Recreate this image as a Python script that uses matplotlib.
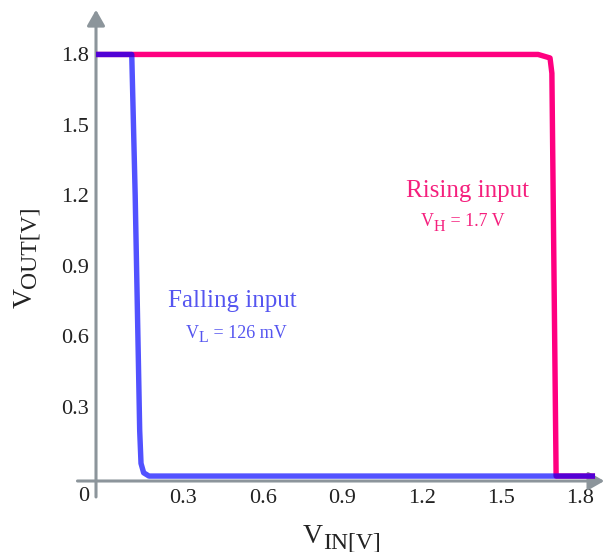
import matplotlib
matplotlib.use("Agg")
import matplotlib.pyplot as plt

# Transfer curves (V_OUT vs V_IN) for the two sweep directions
vin_rise = [-0.03, 1.64, 1.685, 1.692, 1.708, 1.855]
vout_rise = [1.8, 1.8, 1.785, 1.72, 0.006, 0.006]

vin_fall = [-0.03, 0.105, 0.118, 0.13, 0.135, 0.14, 0.15, 0.17, 1.855]
vout_fall = [1.8, 1.8, 1.2, 0.5, 0.2, 0.06, 0.02, 0.006, 0.006]

x_ticks = [0.3, 0.6, 0.9, 1.2, 1.5, 1.8]
y_ticks = [0.3, 0.6, 0.9, 1.2, 1.5, 1.8]
x_tick_labels = ["0.3", "0.6", "0.9", "1.2", "1.5", "1.8"]
y_tick_labels = ["0.3", "0.6", "0.9", "1.2", "1.5", "1.8"]

SERIF = "Liberation Serif"
PINK = "#ff0080"
BLUE = "#0000ff"
PINK_TXT = "#f51f7d"
BLUE_TXT = "#5555f0"
AXIS = "#8c959b"

W, H = 604, 552
fig = plt.figure(figsize=(W / 100, H / 100), dpi=100)
ax = fig.add_axes([0.1195, 0.0967, 0.881, 0.8898])
ax.set_xlim(-0.12, 1.89)
ax.set_ylim(-0.09, 2.0)

ax.plot(vin_rise, vout_rise, color=PINK, lw=3.9, solid_joinstyle="round",
        solid_capstyle="butt", zorder=3)
ax.plot(vin_fall, vout_fall, color=BLUE, alpha=0.68, lw=3.9,
        solid_joinstyle="round", solid_capstyle="butt", zorder=4)

# Axes: hidden spines used only to place tick labels, arrows drawn on top
for s in ("top", "right"):
    ax.spines[s].set_visible(False)
ax.spines["left"].set_position(("data", -0.03))
ax.spines["bottom"].set_position(("data", -0.015))
ax.spines["left"].set_color("none")
ax.spines["bottom"].set_color("none")

ax.set_xticks(x_ticks, x_tick_labels)
ax.set_yticks(y_ticks, y_tick_labels)
ax.tick_params(axis="both", length=0, labelsize=16, labelcolor="#222222")
ax.tick_params(axis="x", pad=6)
ax.tick_params(axis="y", pad=5)
for lab in ax.get_xticklabels() + ax.get_yticklabels():
    lab.set_fontfamily(SERIF)

arrow = dict(arrowstyle="-|>,head_length=9.5,head_width=5.4", color=AXIS,
             lw=2.2, shrinkA=0, shrinkB=0, mutation_scale=1)
ax.annotate("", xy=(-0.03, 1.99), xytext=(-0.03, -0.083),
            arrowprops=arrow, annotation_clip=False, zorder=2)
ax.annotate("", xy=(1.89, -0.015), xytext=(-0.10, -0.015),
            arrowprops=arrow, annotation_clip=False, zorder=2)
ax.text(-0.075, -0.083, "0", fontsize=16, family=SERIF, color="#222222",
        ha="center", va="center")

fig.canvas.draw()
renderer = fig.canvas.get_renderer()


def runs(x, y, parts, color, rotation=0):
    """Draw text pieces one after another starting at pixel (x, y from top)."""
    for s, size, dy in parts:
        if rotation == 0:
            t = fig.text(x / W, 1 - (y + dy) / H, s, fontsize=size, family=SERIF,
                         color=color, ha="left", va="baseline")
            x += t.get_window_extent(renderer).width
        else:
            t = fig.text((x + dy) / W, 1 - y / H, s, fontsize=size, family=SERIF,
                         color=color, ha="left", va="baseline", rotation=90,
                         rotation_mode="anchor")
            y -= t.get_window_extent(renderer).height


runs(303, 543, [("V", 20, 0), ("IN[V]", 17, 5)], "#222222")
runs(32, 308, [("V", 20, 0), ("OUT[V]", 17, 3)], "#222222", rotation=90)

fig.text(467 / W, 1 - 197 / H, "Rising input", fontsize=18, family=SERIF,
         color=PINK_TXT, ha="center", va="baseline")
runs(421, 226, [("V", 13, 0), ("H", 11.5, 5), (" = 1.7 V", 13, 0)], PINK_TXT)

fig.text(232 / W, 1 - 307 / H, "Falling input", fontsize=18, family=SERIF,
         color=BLUE_TXT, ha="center", va="baseline")
runs(186, 338, [("V", 13, 0), ("L", 11.5, 4), (" = 126 mV", 13, 0)], BLUE_TXT)

fig.savefig("out.png", dpi=100)
